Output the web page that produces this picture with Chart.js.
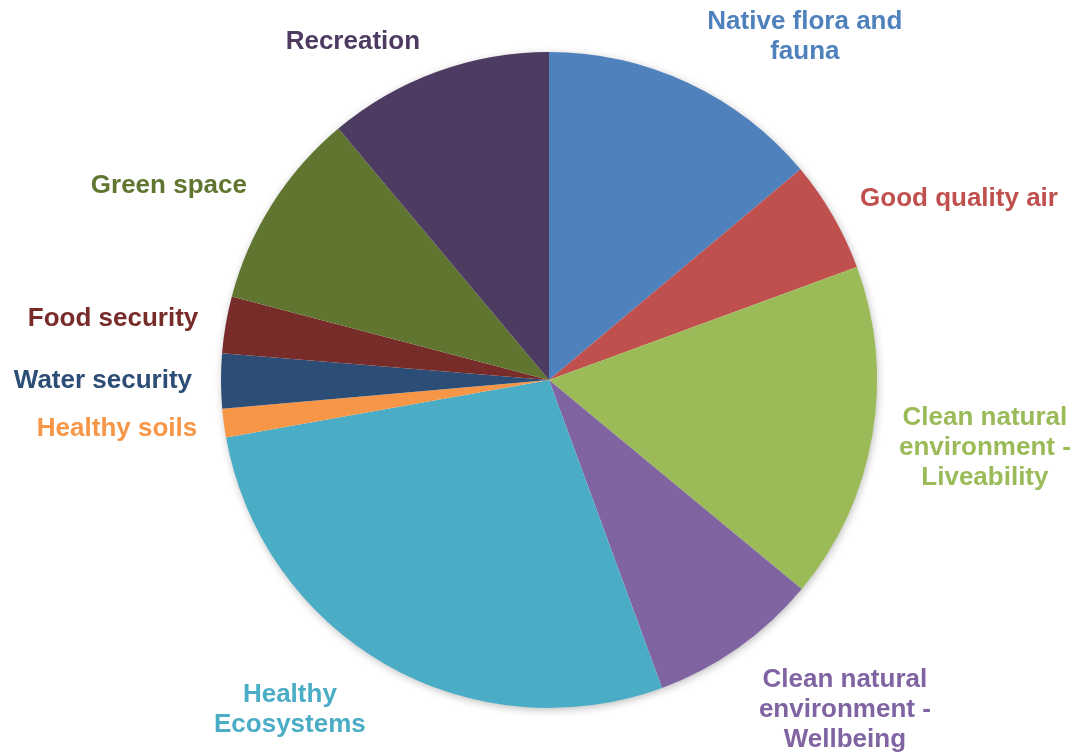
<!DOCTYPE html>
<html>
<head>
<meta charset="utf-8">
<style>
  html, body { margin: 0; padding: 0; background: #fff; }
  #wrap { width: 1081px; height: 754px; position: relative; }
</style>
<script src="https://cdn.jsdelivr.net/npm/chart.js@4/dist/chart.umd.min.js"></script>
</head>
<body>
<div id="wrap"><canvas id="pie"></canvas></div>
<script>
  // values (share of responses, %)
  const labels = [
    ['Native flora and', 'fauna'],
    ['Good quality air'],
    ['Clean natural', 'environment -', 'Liveability'],
    ['Clean natural', 'environment -', 'Wellbeing'],
    ['Healthy', 'Ecosystems'],
    ['Healthy soils'],
    ['Water security'],
    ['Food security'],
    ['Green space'],
    ['Recreation']
  ];
  const values = [13.9, 5.5, 16.6, 8.4, 27.8, 1.4, 2.7, 2.8, 9.8, 11.1];
  const colors = ['#4F81BD', '#C0504D', '#9BBB59', '#8064A2', '#4BACC6',
                  '#F79646', '#2C4D75', '#772C2A', '#5F7530', '#4D3B62'];

  // label block centres, in radii from the pie centre
  const labelPos = [
    [0.780, -1.046], [1.250, -0.552], [1.329, 0.207], [0.902, 1.006], [-0.790, 1.006],
    [-1.317, 0.149], [-1.360, 0.003], [-1.329, -0.186], [-1.159, -0.591], [-0.598, -1.030]
  ];

  const pieShadow = {
    id: 'pieShadow',
    beforeDatasetsDraw(chart) {
      const arc = chart.getDatasetMeta(0).data[0];
      if (!arc) return;
      const ctx = chart.ctx;
      ctx.save();
      ctx.shadowColor = 'rgba(0, 0, 0, 0.28)';
      ctx.shadowBlur = 9;
      ctx.shadowOffsetX = 1;
      ctx.shadowOffsetY = 2;
      ctx.fillStyle = '#ffffff';
      ctx.beginPath();
      ctx.arc(arc.x, arc.y, arc.outerRadius - 0.5, 0, Math.PI * 2);
      ctx.fill();
      ctx.restore();
    }
  };

  const outsideLabels = {
    id: 'outsideLabels',
    afterDatasetsDraw(chart) {
      const meta = chart.getDatasetMeta(0);
      const ctx = chart.ctx;
      const lineH = 30;
      ctx.save();
      ctx.font = 'bold 26px "Liberation Sans", Arial, sans-serif';
      ctx.textAlign = 'center';
      ctx.textBaseline = 'middle';
      meta.data.forEach((arc, i) => {
        const r = arc.outerRadius;
        const x = arc.x + labelPos[i][0] * r;
        const y = arc.y + labelPos[i][1] * r;
        const lines = labels[i];
        const top = y - (lines.length - 1) * lineH / 2;
        ctx.fillStyle = colors[i];
        lines.forEach((line, k) => ctx.fillText(line, x, top + k * lineH));
      });
      ctx.restore();
    }
  };

  new Chart(document.getElementById('pie'), {
    type: 'pie',
    data: {
      labels: labels.map((l) => l.join(' ')),
      datasets: [{
        data: values,
        backgroundColor: colors,
        borderWidth: 0
      }]
    },
    options: {
      responsive: true,
      maintainAspectRatio: false,
      animation: false,
      layout: {
        padding: { left: 221, right: 204, top: 52, bottom: 46 }
      },
      plugins: {
        legend: { display: false },
        tooltip: { enabled: false }
      }
    },
    plugins: [pieShadow, outsideLabels]
  });
</script>
</body>
</html>
